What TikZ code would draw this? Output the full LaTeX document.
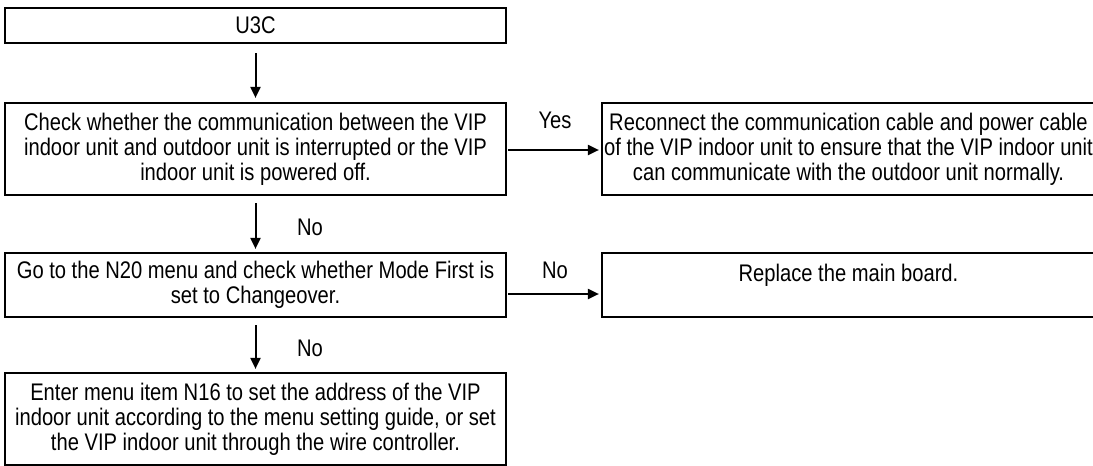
\documentclass[tikz,border=0pt]{standalone}
\usepackage{fontspec}
\setmainfont{Liberation Sans}[FakeStretch=0.84]
\usetikzlibrary{arrows.meta,calc}
\begin{document}
\begin{tikzpicture}[x=1pt,y=-1pt,
  txt/.style={font=\fontsize{24}{25}\selectfont},
  box/.style={txt,draw=black,line width=2.2pt,rectangle,inner sep=0pt,
    minimum width=501pt,align=center},
  arr/.style={line width=2pt,-{Triangle[length=11pt,width=10pt]}},
  lbl/.style={txt,inner sep=0pt}]
\useasboundingbox (0,0) rectangle (1093,466);
\node[box,minimum height=35pt] (a) at (255.5,25.5) {U3C};
\node[box,minimum height=92pt] (b) at (255.5,149) {Check whether the communication between the VIP\\indoor unit and outdoor unit is interrupted or the VIP\\indoor unit is powered off.};
\node[box,minimum height=92pt,minimum width=493pt] (c) at (848.5,149) {Reconnect the communication cable and power cable\\of the VIP indoor unit to ensure that the VIP indoor unit\\can communicate with the outdoor unit normally.};
\node[box,minimum height=64pt] (d) at (255.5,285) {Go to the N20 menu and check whether Mode First is\\set to Changeover.};
\node[box,minimum height=64pt,minimum width=493pt] (e) at (848.5,285) {Replace the main board.\\\mbox{}};
\node[box,minimum height=92pt] (f) at (255.5,419) {Enter menu item N16 to set the address of the VIP\\indoor unit according to the menu setting guide, or set\\the VIP indoor unit through the wire controller.};
\draw[arr,shorten <=9pt,shorten >=4pt] (a.south) -- (b.north);
\draw[arr,shorten <=7pt,shorten >=3pt] (b.south) -- (d.north);
\draw[arr,shorten <=7pt,shorten >=3pt] (d.south) -- (f.north);
\draw[arr,shorten <=1pt,shorten >=2pt] ($(b.east)+(0,1)$) -- ($(c.west)+(0,1)$);
\coordinate (de) at ($(d.east)+(0,9)$);
\coordinate (ew) at ($(e.west)+(0,9)$);
\draw[arr,shorten <=1pt,shorten >=2pt] (de) -- (ew);
\node[lbl] (yes) at (555,120) {Yes};
\node[lbl] (no1) at (555,270) {No};
\node[lbl] (no2) at (310,227) {No};
\node[lbl] (no3) at (310,348) {No};
\end{tikzpicture}
\end{document}
